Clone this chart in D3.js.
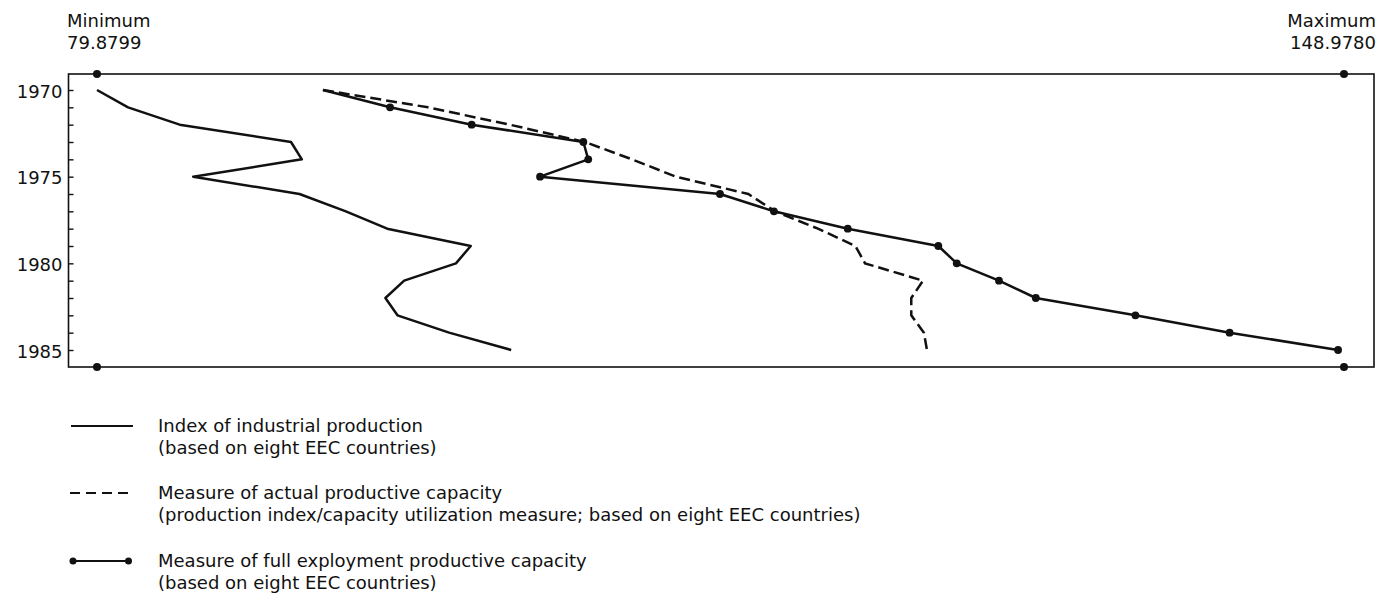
<!DOCTYPE html>
<html>
<head>
<meta charset="utf-8">
<script src="https://cdn.jsdelivr.net/npm/d3@7"></script>
<style>
  html, body { margin: 0; padding: 0; background: #fff; }
  svg { display: block; }
  text { font-family: "DejaVu Sans", "Liberation Sans", Arial, sans-serif; fill: #111; }
</style>
</head>
<body>
<svg id="chart" width="1383" height="597"></svg>
<script>
// ---- data ----
const years = [1970, 1971, 1972, 1973, 1974, 1975, 1976, 1977, 1978, 1979, 1980, 1981, 1982, 1983, 1984, 1985];
const industrialProduction = [79.88, 81.60, 84.46, 90.63, 91.23, 85.21, 91.10, 93.67, 95.96, 100.59, 99.77, 96.90, 95.86, 96.53, 99.39, 102.83];
const actualCapacity = [92.40, 98.22, 102.75, 106.92, 109.52, 111.96, 115.97, 117.45, 119.83, 121.90, 122.44, 125.65, 125.00, 125.00, 125.70, 125.87];
const fullEmploymentCapacity = [92.40, 96.12, 100.64, 106.83, 107.10, 104.43, 114.40, 117.39, 121.48, 126.50, 127.52, 129.86, 131.90, 137.42, 142.64, 148.65];
const minimumValue = 79.8799;
const maximumValue = 148.9780;
const yearTickLabels = [1970, 1975, 1980, 1985];
const legendItems = [
  { key: "solid", lines: ["Index of industrial production", "(based on eight EEC countries)"] },
  { key: "dashed", lines: ["Measure of actual productive capacity", "(production index/capacity utilization measure; based on eight EEC countries)"] },
  { key: "dots", lines: ["Measure of full exployment productive capacity", "(based on eight EEC countries)"] }
];

// ---- layout ----
const svg = d3.select("#chart");
const box = { left: 68.5, top: 74, right: 1374, bottom: 367 };
const x = d3.scaleLinear().domain([minimumValue, maximumValue]).range([97, 1344]);
const y = d3.scaleLinear().domain([1970, 1985]).range([90, 350]);
const ink = "#111";
const fs = "18px";

// frame
svg.append("rect")
  .attr("x", box.left).attr("y", box.top)
  .attr("width", box.right - box.left).attr("height", box.bottom - box.top)
  .attr("fill", "none").attr("stroke", ink).attr("stroke-width", 1.6);

// year axis with inward ticks
const yAxis = d3.axisLeft(y)
  .tickValues(years)
  .tickSize(-5)
  .tickFormat(d => yearTickLabels.includes(d) ? String(d) : "");
const gy = svg.append("g").attr("transform", `translate(${box.left},0)`).call(yAxis);
gy.select(".domain").remove();
gy.selectAll(".tick line").attr("stroke", ink).attr("stroke-width", 1.4);
gy.selectAll(".tick text")
  .attr("x", -6).attr("dy", "0.62em").attr("y", -4)
  .style("font-size", fs).style("font-family", "'DejaVu Sans', sans-serif").attr("fill", ink);

// min / max markers on the frame
[minimumValue, maximumValue].forEach(v => {
  [box.top, box.bottom].forEach(yy => {
    svg.append("circle").attr("cx", x(v)).attr("cy", yy).attr("r", 4).attr("fill", ink);
  });
});
const minLabel = svg.append("text").style("font-size", fs);
minLabel.append("tspan").attr("x", x(minimumValue) - 30).attr("y", 27).text("Minimum");
minLabel.append("tspan").attr("x", x(minimumValue) - 30).attr("y", 49).text(minimumValue.toFixed(4));
const maxLabel = svg.append("text").attr("text-anchor", "end").style("font-size", fs);
maxLabel.append("tspan").attr("x", x(maximumValue) + 32).attr("y", 27).text("Maximum");
maxLabel.append("tspan").attr("x", x(maximumValue) + 32).attr("y", 49).text(maximumValue.toFixed(4));

// lines
const line = d3.line().x(d => x(d.v)).y(d => y(d.year));
const toPts = arr => years.map((yr, i) => ({ year: yr, v: arr[i] }));

svg.append("path").datum(toPts(industrialProduction))
  .attr("d", line).attr("fill", "none").attr("stroke", ink).attr("stroke-width", 2.5).attr("stroke-linejoin", "round");

svg.append("path").datum(toPts(actualCapacity))
  .attr("d", line).attr("fill", "none").attr("stroke", ink).attr("stroke-width", 2.5)
  .attr("stroke-dasharray", "11,5");

const fullPts = toPts(fullEmploymentCapacity);
svg.append("path").datum(fullPts)
  .attr("d", line).attr("fill", "none").attr("stroke", ink).attr("stroke-width", 2.5).attr("stroke-linejoin", "round");
svg.selectAll("circle.fe").data(fullPts.slice(1)).enter().append("circle")
  .attr("class", "fe").attr("cx", d => x(d.v)).attr("cy", d => y(d.year)).attr("r", 3.9).attr("fill", ink);

// legend
const legendTop = [432, 499, 567];
legendItems.forEach((item, i) => {
  const base = legendTop[i];
  const ly = base - 6;
  const g = svg.append("g");
  const seg = g.append("line").attr("x1", 71).attr("x2", 133).attr("y1", ly).attr("y2", ly)
    .attr("stroke", ink).attr("stroke-width", 2);
  if (item.key === "dashed") seg.attr("stroke-dasharray", "10,6").attr("x1", 70).attr("x2", 134);
  if (item.key === "dots") {
    g.append("circle").attr("cx", 73).attr("cy", ly).attr("r", 3.5).attr("fill", ink);
    g.append("circle").attr("cx", 128.5).attr("cy", ly).attr("r", 3.5).attr("fill", ink);
    seg.attr("x1", 73).attr("x2", 128.5);
  }
  const t = g.append("text").style("font-size", fs);
  item.lines.forEach((s, j) => {
    t.append("tspan").attr("x", 158).attr("y", base + j * 21.5).text(s);
  });
});
</script>
</body>
</html>
